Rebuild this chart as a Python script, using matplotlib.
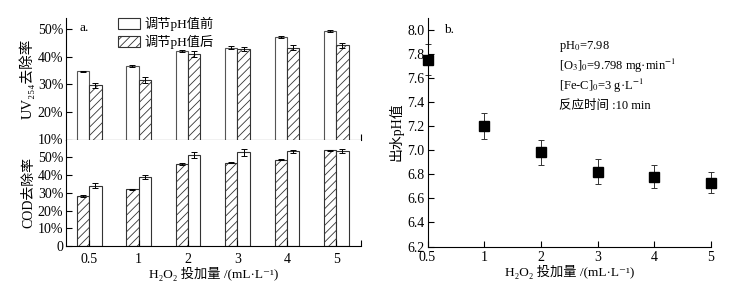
import matplotlib
matplotlib.use("Agg")
import matplotlib.pyplot as plt
import numpy as np
from matplotlib.patches import Patch

plt.rcParams['font.family'] = ['Liberation Serif', 'DejaVu Serif', 'Noto Sans CJK SC']
plt.rcParams['mathtext.fontset'] = 'stix'
plt.rcParams['hatch.linewidth'] = 0.6
plt.rcParams['font.size'] = 9
plt.rcParams['xtick.labelsize'] = 10
plt.rcParams['ytick.labelsize'] = 10

categories = ['0.5', '1', '2', '3', '4', '5']
uv_before = [34.7, 36.5, 42.1, 43.2, 47.1, 49.2]
uv_before_err = [0.2, 0.3, 0.3, 0.5, 0.3, 0.3]
uv_after = [29.6, 31.5, 40.9, 42.8, 43.3, 44.1]
uv_after_err = [1.0, 1.0, 1.2, 0.8, 0.8, 1.0]
cod_after = [28.2, 32.0, 46.2, 47.0, 48.6, 54.0]
cod_after_err = [0.4, 0.3, 0.3, 0.4, 0.4, 0.3]
cod_before = [34.0, 38.8, 51.2, 52.7, 53.3, 53.3]
cod_before_err = [1.5, 1.1, 1.5, 1.8, 1.0, 1.1]
ph_values = [7.75, 7.20, 6.98, 6.82, 6.78, 6.73]
ph_err = [0.13, 0.11, 0.10, 0.105, 0.095, 0.09]

label_before = '调节pH值前'
label_after = '调节pH值后'
xlabel_text = 'H₂O₂ 投加量 /(mL·L⁻¹)'

W, H = 753, 285
fig = plt.figure(figsize=(W / 100, H / 100), dpi=100)

def fx(px):
    return px / W

def fy(py):
    return 1 - py / H

axl = 66; axr = 361
ax1 = fig.add_axes([fx(axl), fy(139.5), fx(axr - axl), fy(18) - fy(139.5)])
ax2 = fig.add_axes([fx(axl), fy(246), fx(axr - axl), fy(139.5) - fy(246)])
ax3 = fig.add_axes([fx(427.5), fy(246.5), fx(711 - 427.5), fy(17.5) - fy(246.5)])

x = np.arange(len(categories))
bw = 0.25
ekw = dict(ecolor='black', elinewidth=0.7, capsize=2.5, capthick=0.7)
hatch = '////'

# upper panel
ax1.bar(x - bw / 2, uv_before, bw, color='white', edgecolor='#555555', linewidth=0.8,
        yerr=uv_before_err, error_kw=ekw)
ax1.bar(x + bw / 2, uv_after, bw, color='white', edgecolor='#333333', linewidth=0.8,
        hatch=hatch, yerr=uv_after_err, error_kw=ekw)
ax1.set_ylim(10, 54)
ax1.set_xlim(-0.47, 5.5)
ax1.set_yticks([10, 20, 30, 40, 50])
ax1.set_yticklabels(['10%', '20%', '30%', '40%', '50%'])
ax1.set_xticks([5.5])
ax1.set_xticklabels([''])
ax1.set_ylabel('UV₂₅₄去除率', labelpad=2, fontsize=10.5)
ax1.text(0.045, 0.97, 'a.', transform=ax1.transAxes, va='top', ha='left', fontsize=9.5)
handles = [Patch(facecolor='white', edgecolor='#333333', linewidth=0.8),
           Patch(facecolor='white', edgecolor='#333333', linewidth=0.8, hatch=hatch)]
ax1.legend(handles, [label_before, label_after], loc='upper left', bbox_to_anchor=(0.16, 1.05),
           frameon=False, handlelength=1.6, handleheight=0.9, labelspacing=0.25,
           handletextpad=0.4, borderaxespad=0, fontsize=9.5)

# lower panel
ax2.bar(x - bw / 2, cod_after, bw, color='white', edgecolor='#333333', linewidth=0.8,
        hatch=hatch, yerr=cod_after_err, error_kw=ekw)
ax2.bar(x + bw / 2, cod_before, bw, color='white', edgecolor='#333333', linewidth=0.8,
        yerr=cod_before_err, error_kw=ekw)
ax2.set_ylim(0, 60)
ax2.set_xlim(-0.47, 5.5)
ax2.set_yticks([0, 10, 20, 30, 40, 50])
ax2.set_yticklabels(['0', '10%', '20%', '30%', '40%', '50%'])
ax2.set_xticks(list(x) + [5.5])
ax2.set_xticklabels(categories + [''])
ax2.tick_params(axis='x', length=0, pad=5)
ax2.set_ylabel('COD去除率', labelpad=2, fontsize=10)
ax2.set_xlabel(xlabel_text, labelpad=1, fontsize=9.5)

for ax in (ax1, ax2):
    ax.spines['top'].set_visible(False)
    ax.spines['right'].set_visible(False)
    ax.tick_params(direction='in', length=4, width=0.8)
    ax.tick_params(axis='y', pad=2)
    for s in ('left', 'bottom'):
        ax.spines[s].set_linewidth(0.8)

# right panel
xc = np.arange(len(categories))
ax3.errorbar(xc, ph_values, yerr=ph_err, fmt='s', color='black', markersize=7,
             ecolor='#333333', elinewidth=0.7, capsize=2.5, capthick=0.7, clip_on=False)
ax3.set_xlim(0, 5)
ax3.set_ylim(6.2, 8.1)
ax3.set_xticks(xc)
ax3.set_xticklabels(categories)
yt = np.arange(6.2, 8.01, 0.2)
ax3.set_yticks(yt)
ax3.set_yticklabels([f'{v:.1f}' for v in yt])
ax3.spines['top'].set_visible(False)
ax3.spines['right'].set_visible(False)
for s in ('left', 'bottom'):
    ax3.spines[s].set_linewidth(0.8)
ax3.tick_params(direction='in', length=4, width=0.8, pad=2)
ax3.tick_params(axis='x', pad=3)
ax3.set_ylabel('出水pH值', labelpad=3, fontsize=10)
ax3.set_xlabel(xlabel_text, labelpad=1, fontsize=9.5)
ax3.text(0.06, 0.97, 'b.', transform=ax3.transAxes, va='top', ha='left', fontsize=9.5)
tx = 0.465
ax3.text(tx, 0.875, 'pH$_0$=7.98', transform=ax3.transAxes, va='center', ha='left', fontsize=9)
ax3.text(tx, 0.79, '[O$_3$]$_0$=9.798 mg·min$^{-1}$', transform=ax3.transAxes, va='center', ha='left', fontsize=9)
ax3.text(tx, 0.70, '[Fe-C]$_0$=3 g·L$^{-1}$', transform=ax3.transAxes, va='center', ha='left', fontsize=9)
ax3.text(tx, 0.615, '反应时间 :10 min', transform=ax3.transAxes, va='center', ha='left', fontsize=9)

fig.savefig('out.png', dpi=100)
